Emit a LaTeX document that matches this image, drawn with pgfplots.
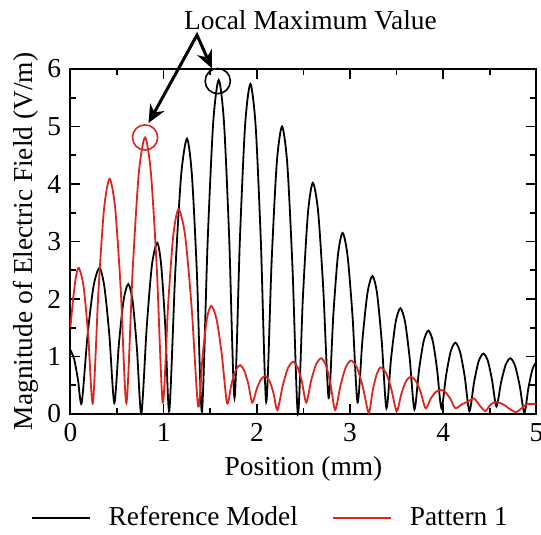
\documentclass[border=0pt]{standalone}
\usepackage{fontspec}
\setmainfont{Liberation Serif}
\usepackage{pgfplots}
\pgfplotsset{compat=1.18}
\usetikzlibrary{arrows.meta}
\definecolor{pat}{RGB}{221,37,29}

\begin{document}
\fontsize{13.7}{16}\selectfont
\begin{tikzpicture}
\begin{axis}[
  name=ax,
  scale only axis,
  width=233pt, height=172.5pt,
  xmin=0, xmax=5, ymin=0, ymax=6,
  xtick={0,1,2,3,4,5}, ytick={0,1,2,3,4,5,6},
  minor x tick num=1, minor y tick num=1,
  tick align=inside,
  major tick length=5pt, minor tick length=3pt,
  tick style={black, line width=0.8pt},
  axis line style={line width=1pt},
  /pgf/number format/assume math mode=true,
  tick label style={font=\fontsize{13.7}{16}\selectfont},
  label style={font=\fontsize{13.7}{16}\selectfont},
  xlabel={Position (mm)},
  ylabel={Magnitude of Electric Field (V/m)},
  xlabel style={yshift=2pt},
  ylabel style={yshift=-5pt},
  clip=false,
  legend columns=2,
  legend style={at={(0.431,-0.302)}, anchor=center, draw=none, fill=none,
    font=\fontsize{13.7}{16}\selectfont,
    /tikz/every odd column/.append style={column sep=7pt},
    /tikz/every even column/.append style={column sep=15pt}},
  legend image code/.code={\draw[#1, line width=0.9pt] (0pt,0pt) -- (29pt,0pt);},
]
% reference model
\addplot[black, line width=0.9pt, smooth, tension=0.45] coordinates {
(0.00,1.11)(0.04,0.95)(0.08,0.6)(0.12,0.19)
(0.183,1.37)(0.247,2.22)(0.31,2.54)(0.363,2.22)(0.417,1.37)(0.47,0.19)
(0.52,1.23)(0.57,1.98)(0.62,2.26)(0.667,1.96)(0.713,1.13)(0.76,0)
(0.817,1.49)(0.873,2.58)(0.93,2.98)(0.973,2.59)(1.017,1.52)(1.06,0.05)
(1.123,2.42)(1.187,4.15)(1.25,4.79)(1.303,4.15)(1.357,2.42)(1.41,0.04)
(1.47,2.93)(1.53,5.04)(1.59,5.81)(1.647,5.07)(1.703,3.05)(1.76,0.28)
(1.817,3.01)(1.873,5.01)(1.93,5.74)(1.987,5.0)(2.043,2.98)(2.10,0.21)
(2.157,2.61)(2.213,4.36)(2.27,5.0)(2.327,4.33)(2.383,2.5)(2.44,0)
(2.493,2.01)(2.547,3.48)(2.60,4.02)(2.657,3.52)(2.713,2.15)(2.77,0.28)
(2.82,1.72)(2.87,2.77)(2.92,3.15)(2.973,2.75)(3.027,1.68)(3.08,0.2)
(3.133,1.3)(3.187,2.11)(3.24,2.4)(3.29,2.09)(3.34,1.25)(3.39,0.1)
(3.44,0.97)(3.49,1.61)(3.54,1.84)(3.59,1.60)(3.64,0.96)(3.69,0.08)
(3.74,0.77)(3.79,1.27)(3.84,1.45)(3.887,1.27)(3.933,0.78)(3.98,0.1)
(4.03,0.67)(4.08,1.09)(4.13,1.24)(4.18,1.08)(4.23,0.65)(4.28,0.05)
(4.33,0.55)(4.38,0.92)(4.43,1.05)(4.477,0.93)(4.523,0.59)(4.57,0.13)
(4.62,0.55)(4.67,0.86)(4.72,0.97)(4.77,0.84)(4.82,0.49)(4.87,0.02)
(4.913,0.45)(4.957,0.78)(5.0,0.91)
};
\addlegendentry{Reference Model}
% pattern 1
\addplot[pat, line width=0.9pt, smooth, tension=0.45] coordinates {
(0.00,1.52)(0.03,2.03)(0.06,2.4)(0.09,2.54)(0.14,2.22)(0.19,1.37)(0.24,0.19)
(0.30,2.14)(0.36,3.57)(0.42,4.09)(0.48,3.57)(0.54,2.14)(0.60,0.19)
(0.667,2.5)(0.733,4.19)(0.80,4.81)(0.863,4.19)(0.927,2.5)(0.99,0.2)
(1.047,1.88)(1.103,3.11)(1.16,3.56)(1.23,3.10)(1.30,1.85)(1.37,0.13)
(1.417,1.0)(1.463,1.65)(1.51,1.88)(1.567,1.65)(1.623,1.04)(1.68,0.19)
(1.727,0.52)(1.773,0.76)(1.82,0.85)(1.863,0.76)(1.907,0.53)(1.95,0.2)
(1.997,0.43)(2.043,0.6)(2.09,0.66)(2.133,0.58)(2.177,0.37)(2.22,0.07)
(2.277,0.49)(2.333,0.8)(2.39,0.91)(2.437,0.81)(2.483,0.56)(2.53,0.2)
(2.583,0.59)(2.637,0.87)(2.69,0.97)(2.74,0.85)(2.79,0.52)(2.84,0.07)
(2.897,0.5)(2.953,0.81)(3.01,0.93)(3.073,0.81)(3.137,0.47)(3.20,0.02)
(3.243,0.41)(3.287,0.7)(3.33,0.81)(3.387,0.71)(3.443,0.43)(3.50,0.05)
(3.55,0.35)(3.60,0.57)(3.65,0.65)(3.703,0.58)(3.757,0.38)(3.81,0.1)
(3.863,0.26)(3.917,0.38)(3.97,0.42)(4.023,0.38)(4.077,0.26)(4.13,0.1)
(4.20,0.17)(4.27,0.22)(4.33,0.27)(4.39,0.15)(4.45,0.05)
(4.50,0.15)(4.54,0.2)(4.58,0.21)(4.65,0.16)(4.72,0.08)(4.78,0.03)
(4.84,0.1)(4.90,0.17)(5.0,0.17)
};
\addlegendentry{Pattern 1}
% annotation
\draw[pat, line width=0.8pt] (axis cs:0.80,4.81) circle[radius=6.3pt];
\draw[black, line width=0.8pt] (axis cs:1.58,5.79) circle[radius=6.3pt];
\draw[line width=1.5pt, line join=miter,
  {Stealth[length=9pt,width=8pt]}-{Stealth[length=9pt,width=8pt]}]
  (axis cs:0.837,5.06) -- (axis cs:1.357,6.59) -- (axis cs:1.518,6.01);
\node at (axis cs:2.575,6.85) {Local Maximum Value};
\end{axis}
\pgfresetboundingbox
\path ([shift={(-35.25pt,-60.5pt)}]ax.south west) rectangle ([shift={(235.25pt,207pt)}]ax.south west);
\end{tikzpicture}
\end{document}
